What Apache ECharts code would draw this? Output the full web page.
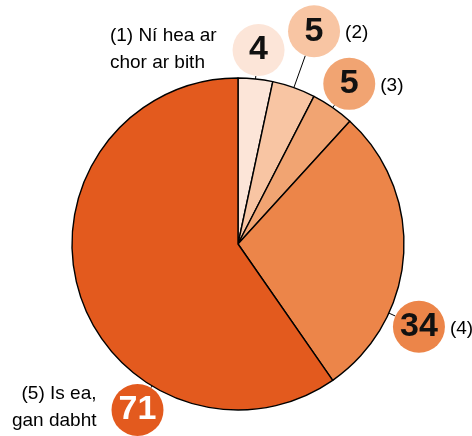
<!DOCTYPE html>
<html>
<head>
    <meta charset="utf-8">
    <title>ECharts</title>
    <script src="https://cdn.jsdelivr.net/npm/echarts@6/dist/echarts.min.js"></script>
    <style>
        html, body { margin: 0; padding: 0; background: #fff; }
    </style>
</head>
<body>
    <div id="main" style="width: 472px;height:436px;"></div>
    <script type="text/javascript">
        // data
        var categories = ['(1) Ní hea ar chor ar bith', '(2)', '(3)', '(4)', '(5) Is ea, gan dabht'];
        var values = [4, 5, 5, 34, 71];
        var labelTexts = ['(1) Ní hea ar\nchor ar bith', '(2)', '(3)', '(4)', '(5) Is ea,\ngan dabht'];

        // styling / layout
        var colors = ['#fce5d8', '#f8c5a3', '#f1a472', '#ec8549', '#e35a1e'];
        var numColors = ['#111', '#111', '#111', '#111', '#fff'];
        var CX = 238, CY = 244, R = 166, BUBBLE = 26;
        var lineGap = [3, 34, 3, 7, 2];          // leader line length per label
        var angleOverride = [null, null, null, 114.6, 211.2]; // where big slices hang their bubble
        var FONT = '"Liberation Sans", Arial, sans-serif';

        var total = values.reduce(function (a, b) { return a + b; }, 0);
        var midAngles = [];
        var acc = 0;
        for (var i = 0; i < values.length; i++) {
            midAngles.push((acc + values[i] / 2) / total * 360);
            acc += values[i];
        }

        function geom(i) {
            var a = (angleOverride[i] != null ? angleOverride[i] : midAngles[i]) * Math.PI / 180;
            var sx = Math.sin(a), sy = -Math.cos(a);
            return {
                ex: CX + R * sx, ey: CY + R * sy,
                lx: CX + (R + lineGap[i]) * sx, ly: CY + (R + lineGap[i]) * sy,
                bx: CX + (R + lineGap[i] + BUBBLE) * sx, by: CY + (R + lineGap[i] + BUBBLE) * sy
            };
        }

        var pieData = [], textData = [];
        for (var i = 0; i < values.length; i++) {
            pieData.push({
                name: categories[i], value: values[i],
                itemStyle: { color: colors[i] },
                label: {
                    rich: {
                        c: {
                            width: BUBBLE * 2, height: BUBBLE * 2, lineHeight: BUBBLE * 2,
                            borderRadius: BUBBLE, backgroundColor: colors[i],
                            align: 'center', verticalAlign: 'middle',
                            fontSize: 34, fontWeight: 'bold', fontFamily: FONT, color: numColors[i]
                        }
                    }
                }
            });
            textData.push({ name: categories[i], value: values[i] });
        }

        var myChart = echarts.init(document.getElementById('main'));
        var option = {
            backgroundColor: '#ffffff',
            animation: false,
            series: [{
                type: 'pie',
                center: [CX, CY],
                radius: R,
                startAngle: 90,
                clockwise: true,
                silent: true,
                avoidLabelOverlap: false,
                itemStyle: { borderColor: '#000', borderWidth: 1.4 },
                label: {
                    show: true, position: 'outside',
                    formatter: function (p) { return '{c|' + p.value + '}'; }
                },
                labelLine: { show: true, length: 5, length2: 0, lineStyle: { color: '#000', width: 1 } },
                labelLayout: function (p) {
                    var g = geom(p.dataIndex);
                    return {
                        x: g.bx, y: g.by, align: 'center', verticalAlign: 'middle',
                        labelLinePoints: [[g.ex, g.ey], [g.lx, g.ly], [g.lx, g.ly]]
                    };
                },
                data: pieData
            }, {
                type: 'pie',
                center: [CX, CY],
                radius: R,
                startAngle: 90,
                clockwise: true,
                silent: true,
                avoidLabelOverlap: false,
                itemStyle: { color: 'rgba(0,0,0,0)', borderWidth: 0 },
                label: {
                    show: true, position: 'outside',
                    fontSize: 19, lineHeight: 27, fontFamily: FONT, color: '#000',
                    formatter: function (p) { return labelTexts[p.dataIndex]; }
                },
                labelLine: { show: false },
                labelLayout: function (p) {
                    var i = p.dataIndex;
                    var g = geom(i);
                    if (i === 0) {
                        return { x: g.bx - BUBBLE - 16 - p.labelRect.width, y: g.by - 1, align: 'left', verticalAlign: 'middle' };
                    }
                    if (i === 4) {
                        return { x: g.bx - BUBBLE - 15, y: g.by - 3, align: 'right', verticalAlign: 'middle' };
                    }
                    return { x: g.bx + BUBBLE + 5, y: g.by + 2, align: 'left', verticalAlign: 'middle' };
                },
                data: textData
            }]
        };
        myChart.setOption(option);
    </script>
</body>
</html>
